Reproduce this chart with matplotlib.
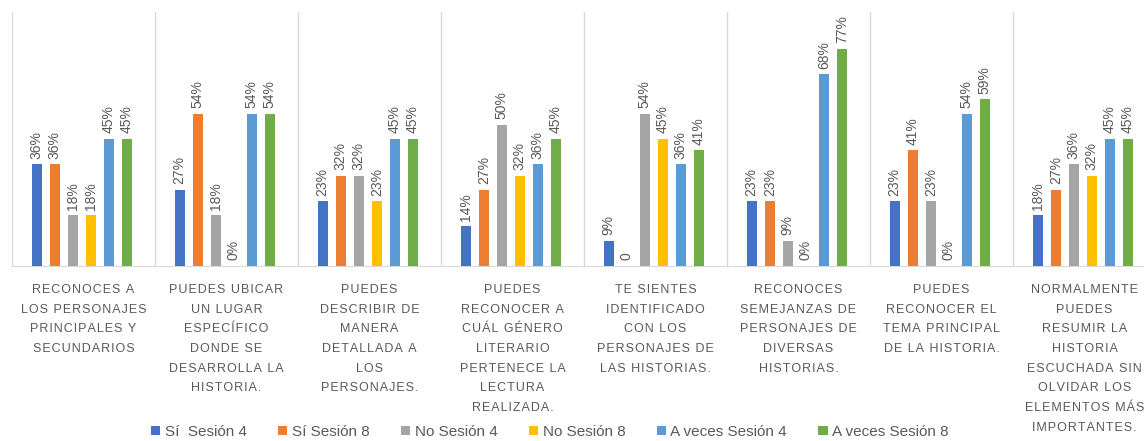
import matplotlib.pyplot as plt
import numpy as np

categories = [
    "RECONOCES A\nLOS PERSONAJES\nPRINCIPALES Y\nSECUNDARIOS",
    "PUEDES UBICAR\nUN LUGAR\nESPECÍFICO\nDONDE SE\nDESARROLLA LA\nHISTORIA.",
    "PUEDES\nDESCRIBIR DE\nMANERA\nDETALLADA A\nLOS\nPERSONAJES.",
    "PUEDES\nRECONOCER A\nCUÁL GÉNERO\nLITERARIO\nPERTENECE LA\nLECTURA\nREALIZADA.",
    "TE SIENTES\nIDENTIFICADO\nCON LOS\nPERSONAJES DE\nLAS HISTORIAS.",
    "RECONOCES\nSEMEJANZAS DE\nPERSONAJES DE\nDIVERSAS\nHISTORIAS.",
    "PUEDES\nRECONOCER EL\nTEMA PRINCIPAL\nDE LA HISTORIA.",
    "NORMALMENTE\nPUEDES\nRESUMIR LA\nHISTORIA\nESCUCHADA SIN\nOLVIDAR LOS\nELEMENTOS MÁS\nIMPORTANTES.",
]

series_names = ["Sí  Sesión 4", "Sí Sesión 8", "No Sesión 4", "No Sesión 8",
                "A veces Sesión 4", "A veces Sesión 8"]

si_s4 = [36, 27, 23, 14, 9, 23, 23, 18]
si_s8 = [36, 54, 32, 27, 0, 23, 41, 27]
no_s4 = [18, 18, 32, 50, 54, 9, 23, 36]
no_s8 = [18, 0, 23, 32, 45, 0, 0, 32]
av_s4 = [45, 54, 45, 36, 36, 68, 54, 45]
av_s8 = [45, 54, 45, 45, 41, 77, 59, 45]

# one label in the original is shown without the percent sign
label_override = {(1, 4): "0"}

colors = ["#4472C4", "#ED7D31", "#A5A5A5", "#FFC000", "#5B9BD5", "#70AD47"]
all_series = [si_s4, si_s8, no_s4, no_s8, av_s4, av_s8]


def spaced(s):
    # mimic the letter spacing of the category labels
    return "\n".join("\u200a".join(line) for line in s.split("\n"))


W, H = 1144, 441
fig = plt.figure(figsize=(W / 100, H / 100), dpi=100)
ax = fig.add_axes([12 / W, (H - 266) / H, 1144 / W, 254 / H])

x = np.arange(len(categories))
step = 0.126
width = 0.07
for k, (vals, col, name) in enumerate(zip(all_series, colors, series_names)):
    pos = x + (k - 2.5) * step - 0.012
    bars = ax.bar(pos, vals, width=width, color=col, label=name, zorder=3)
    for i, (b, v) in enumerate(zip(bars, vals)):
        txt = label_override.get((k, i), f"{v}%")
        ax.annotate(txt, (b.get_x() + b.get_width() / 2, v),
                    xytext=(0, 4), textcoords="offset points",
                    rotation=90, ha="center", va="bottom",
                    fontsize=10, color="#595959", family="Liberation Sans")

ax.set_xlim(-0.5, len(categories) - 0.5)
ax.set_ylim(0, 90)
ax.set_yticks([])
ax.set_xticks(np.arange(-0.5, len(categories)))
ax.set_xticklabels([])
ax.tick_params(axis="x", length=0)
ax.grid(axis="x", color="#D9D9D9", lw=1, zorder=0)
for i, c in enumerate(categories):
    ax.text(i, -0.07, spaced(c), transform=ax.get_xaxis_transform(),
            ha="center", va="top", multialignment="center",
            fontsize=9, color="#595959", linespacing=1.86,
            family=["Liberation Sans", "DejaVu Sans"])
for s in ["top", "left", "right"]:
    ax.spines[s].set_visible(False)
ax.spines["bottom"].set_color("#D9D9D9")

fig.legend(loc="center", bbox_to_anchor=(550 / W, 1 - 432 / H), ncol=6,
           frameon=False, handlelength=0.6, handleheight=0.6,
           handletextpad=0.3, columnspacing=2.05,
           prop={"family": "Liberation Sans", "size": 11},
           labelcolor="#595959")

fig.savefig("out.png", dpi=100)
